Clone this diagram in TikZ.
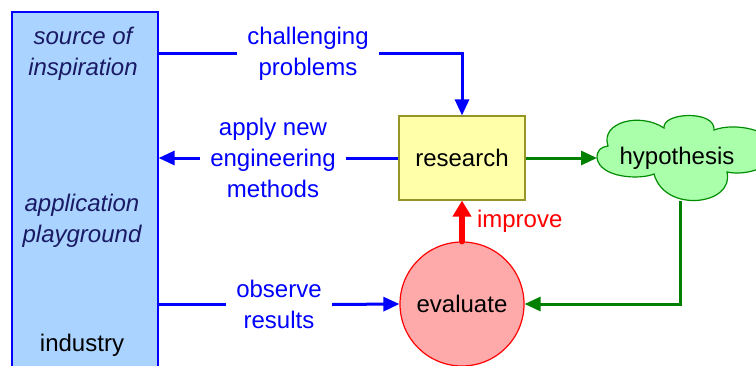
\documentclass[tikz,border=0pt]{standalone}
\usepackage{fontspec}
\setmainfont{Liberation Sans}
\usetikzlibrary{arrows.meta}
\definecolor{boxblue}{RGB}{170,212,255}
\definecolor{navy}{RGB}{25,25,100}
\definecolor{resfill}{RGB}{255,255,170}
\definecolor{resdraw}{RGB}{150,150,40}
\definecolor{hypfill}{RGB}{170,255,170}
\definecolor{hypdraw}{RGB}{0,140,0}
\definecolor{evfill}{RGB}{255,170,170}
\definecolor{dkgreen}{RGB}{0,128,0}
\tikzset{
  txt/.style={font=\fontsize{12pt}{15.5pt}\selectfont, align=center, inner sep=0pt},
  lbl/.style={txt, text=blue, inner xsep=5pt},
  bline/.style={draw=blue, line width=1.5pt},
  barrow/.style={bline, -{Triangle[length=8pt,width=7pt]}},
  garrow/.style={draw=dkgreen, line width=1.5pt, -{Triangle[length=8pt,width=7pt]}},
}
\begin{document}
\begin{tikzpicture}[x=0.5pt,y=-0.5pt]
\useasboundingbox (0,0) rectangle (756,365);
\clip (0,0) rectangle (756,365);
\node[draw=blue, fill=boxblue, minimum width=73pt, minimum height=184pt, inner sep=0pt, line width=0.6pt] (src) at (85,196) {};
\node[txt, text=navy, font=\fontsize{12pt}{15.5pt}\selectfont\itshape] (srcA) at (83,53.5) {source of\\inspiration};
\node[txt, text=navy, font=\fontsize{12pt}{15.5pt}\selectfont\itshape] (srcB) at (82,220.5) {application\\playground};
\node[txt] (srcC) at (82,345) {industry};

\node[draw=resdraw, fill=resfill, minimum width=63pt, minimum height=42pt, txt, line width=0.6pt] (res) at (462,158) {research};

% hypothesis cloud
\draw[draw=hypdraw, fill=hypfill, line width=0.6pt]
  (597,158) .. controls (597,150) and (601,147) .. (608,146)
  .. controls (600,122) and (640,112) .. (664,128)
  .. controls (662,112) and (716,110) .. (714,130)
  .. controls (735,122) and (775,130) .. (775,150)
  .. controls (775,168) and (745,176) .. (727,172)
  .. controls (735,205) and (665,214) .. (654,174)
  .. controls (640,180) and (600,178) .. (597,158) -- cycle;
\coordinate (hypW) at (597,158);
\coordinate (hypS) at (680,201);
\node[txt] (hyp) at (677,158) {hypothesis};

\node[circle, draw=red, fill=evfill, minimum size=62pt, txt, line width=0.6pt] (ev) at (462,304) {evaluate};

\node[lbl] (chal) at (308,53.5) {challenging\\problems};
\node[lbl] (app) at (273,158) {apply new\\engineering\\methods};
\node[lbl] (obs) at (279,304.5) {observe\\results};

\draw[bline] (src.east |- chal) -- (chal.west);
\draw[barrow] (chal.east) -| (res.north);
\draw[bline] (res.west) -- (app.east);
\draw[barrow] (app.west) -- (src.east |- app);
\draw[bline] (src.east |- obs) -- (obs.west);
\draw[barrow] (obs.east) -- (ev.west);

\draw[garrow] (res.east) -- (hypW);
\draw[garrow] (hypS) |- (ev.east);

\draw[draw=red, line width=3pt, line cap=round, -{Triangle[length=8pt,width=9pt]}] (ev.north) -- node[right, txt, text=red, inner xsep=6pt] (imp) {improve} (res.south);
\end{tikzpicture}
\end{document}
